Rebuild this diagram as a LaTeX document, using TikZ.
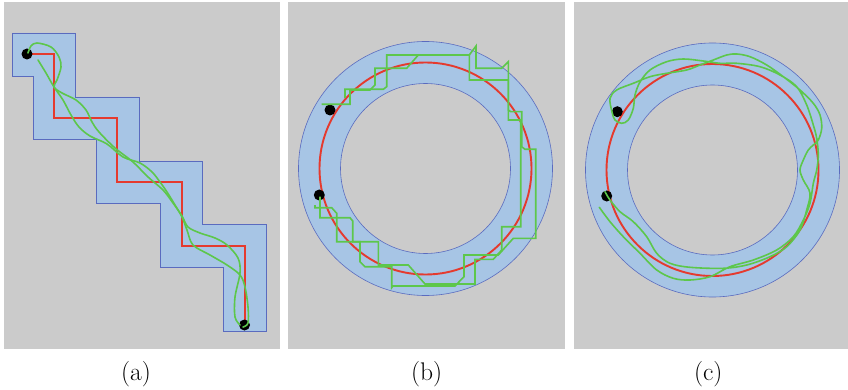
\documentclass[tikz,border=0pt]{standalone}
\definecolor{bg}{HTML}{CBCBCB}
\definecolor{fillb}{HTML}{A7C5E5}
\definecolor{edge}{HTML}{5A6BBF}
\definecolor{redp}{HTML}{E53A2E}
\definecolor{grn}{HTML}{5DC74B}
\begin{document}
\begin{tikzpicture}[x=1pt,y=-1pt,
  panel/.style={fill=bg},
  region/.style={fill=fillb,draw=edge,line width=0.9pt},
  redpath/.style={draw=redp,line width=1.9pt,line join=miter},
  grnpath/.style={draw=grn,line width=1.6pt,line join=round,line cap=round},
  robot/.style={fill=black},
  lab/.style={font=\fontsize{25.5}{30}\selectfont,inner sep=0pt}]
\useasboundingbox (0,0) rectangle (848,390);
\fill[white] (0,0) rectangle (848,390);
% panels
\fill[panel] (4,2) rectangle (280,349);
\fill[panel] (288,2) rectangle (565,349);
\fill[panel] (574,2) rectangle (848,349);

% ---------- (a) ----------
\draw[region] (12,33) -- (75,33) -- (75,97) -- (139,97) -- (139,161) -- (202,161) -- (202,224) -- (266,224) -- (266,331) -- (223,331) -- (223,267) -- (160,267) -- (160,203) -- (96,203) -- (96,139) -- (33,139) -- (33,76) -- (12,76) -- cycle;
\draw[redpath] (27,54) -- (54,54) -- (54,118) -- (117,118) -- (117,182) -- (182,182) -- (182,246) -- (245,246) -- (245,325);
\fill[robot] (27,54) circle[radius=5.5pt];
\fill[robot] (244.5,325) circle[radius=5.5pt];
\draw[grnpath] plot[smooth,tension=0.55] coordinates {(28,53) (31,46) (37,43) (51,47) (59,57) (61,67) (57,80) (54,87) (62,93) (76,100) (86,110) (92,122) (99,132) (115,148) (133,162) (148,177) (163,190) (173,203) (182,216) (188,227) (200,233) (215,238) (227,245) (238,258) (240,273) (235,297) (235,317) (240,325)};
\draw[grnpath] plot[smooth,tension=0.55] coordinates {(38,60) (46,73) (54,87) (63,100) (71,115) (79,127) (90,136) (107,144) (123,157) (140,163) (152,172) (160,182) (167,192) (175,205) (182,217) (187,230) (193,245) (210,255) (227,265) (240,275) (245,287) (248,307) (248,323) (243,327)};

% ---------- (b) ----------
\fill[fillb,even odd rule] (425.5,168.5) circle[radius=127pt] (425.5,168.5) circle[radius=85pt];
\draw[edge,line width=0.6pt] (425.5,168.5) circle[radius=127pt];
\draw[edge,line width=0.6pt] (425.5,168.5) circle[radius=85pt];
\draw[redpath] (425.5,168.5) circle[radius=106pt];
\fill[robot] (330,110) circle[radius=5.5pt];
\fill[robot] (319.3,195) circle[radius=5.5pt];
\draw[grnpath,line cap=butt,line join=miter] (321.7,104.3) -- (350,104.3) -- (350,90) -- (370,90) -- (375,85) -- (375,68.3) -- (406.7,68.3) -- (418.3,55) -- (469.3,55) -- (476,46) -- (476,68.3) -- (501.7,68.3) -- (508.3,61.7) -- (508.3,110) -- (510.7,111.7) -- (521.7,111.7) -- (521.7,146.7) -- (525,149.3) -- (535.7,149.3) -- (535.7,238.3) -- (513.3,238.3) -- (498.3,255) -- (464,255) -- (464,276.7) -- (455,286) -- (393,286) -- (391.7,287.7) -- (391.7,266.7) -- (365,266.7) -- (360,261.7) -- (360,241.7) -- (352.7,241.7) -- (352.7,221) -- (350,217.7) -- (320,217.7) -- (320,196.7);
\draw[grnpath,line cap=butt,line join=miter] (345,98) -- (345,89.3) -- (383.3,89.3) -- (386.7,86.7) -- (386.7,55) -- (469.3,55) -- (469.3,80) -- (508.3,80) -- (508.3,120) -- (520.7,120) -- (520.7,226.7) -- (501.7,226.7) -- (501.7,250) -- (493.3,259.3) -- (475,259.3) -- (475,284) -- (425,284) -- (408.3,265) -- (378.3,265) -- (378.3,241.7) -- (336.7,241.7) -- (336.7,213.3) -- (331.7,207.7) -- (315,207.7) -- (315,205);

% ---------- (c) ----------
\fill[fillb,even odd rule] (712.5,170) circle[radius=127pt] (712.5,170) circle[radius=85pt];
\draw[edge,line width=0.6pt] (712.5,170) circle[radius=127pt];
\draw[edge,line width=0.6pt] (712.5,170) circle[radius=85pt];
\draw[redpath] (712.5,170) circle[radius=106pt];
\fill[robot] (617.3,111.7) circle[radius=5.5pt];
\fill[robot] (606.7,196) circle[radius=5.5pt];
\draw[grnpath] plot[smooth,tension=0.55] coordinates {(605,191.7) (610,200) (620,211.7) (633.3,221.7) (646.7,236.7) (656.7,253.3) (670,263.3) (690,267.3) (723.3,268.3) (746.7,265) (770,256.7) (786.7,246.7) (800,230) (806.7,210) (810,193.3) (803.3,180) (800,170) (803.3,160) (808.3,150) (813.3,145) (818.3,140) (821.7,128.3) (820,115) (813.3,103.3) (800,90) (783.3,76.7) (766.7,65) (750,56.7) (736.7,54) (726.7,55) (713.3,60) (700,65) (686.7,70) (666.7,73.3) (650,76.7) (633.3,83.3) (616.7,90) (610,98.3) (612,112) (615,120) (621.7,123.3) (628.3,120) (633.3,108.3) (635,95) (640,82) (650,70) (666.7,61.7) (683.3,59) (703.3,61) (720,63.3) (736.7,63.3) (760,66.7) (780,75) (796.7,86.7) (806.7,105) (813.3,125) (816.7,138.3) (818.3,155) (816.7,170) (813.3,183.3) (810,203.3) (803.3,220) (793.3,236.7) (776.7,250) (753.3,260) (730,266.7) (710,276.7) (690,280) (673.3,278.3) (656.7,270) (640,253.3) (623.3,236.7) (610,221.7) (599.3,207.3)};

% ---------- labels ----------
\node[lab] (la) at (136,374) {(a)};
\node[lab] (lb) at (426.7,374) {(b)};
\node[lab] (lc) at (708.3,374) {(c)};
\end{tikzpicture}
\end{document}
